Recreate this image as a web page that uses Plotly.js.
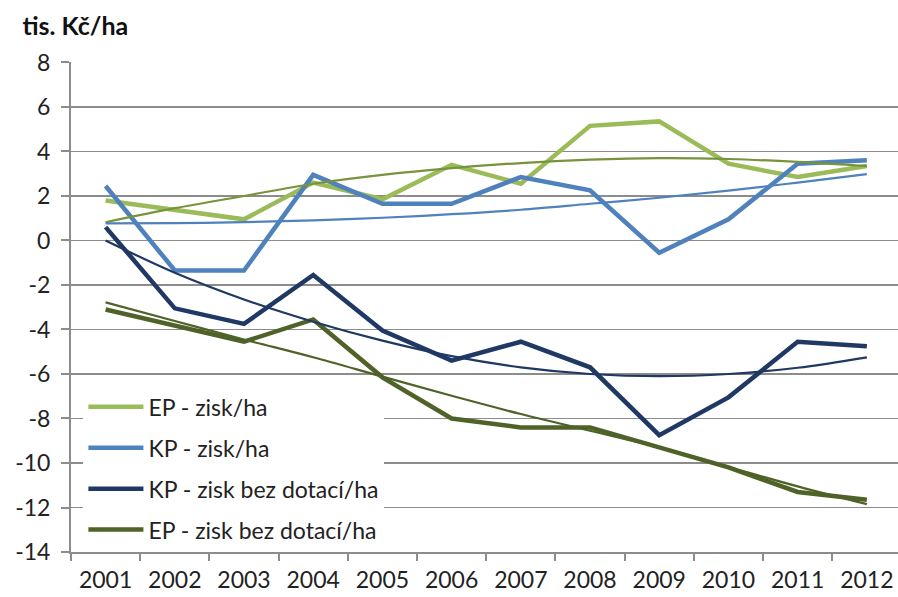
<!DOCTYPE html>
<html>
<head>
<meta charset="utf-8">
<script src="https://cdn.plot.ly/plotly-3.0.1.min.js"></script>
<style>html,body{margin:0;padding:0;background:#fff;}#chart{width:898px;height:597px;}</style>
</head>
<body>
<div id="chart"></div>
<script>
const years = ['2001','2002','2003','2004','2005','2006','2007','2008','2009','2010','2011','2012'];
const epZisk = [1.8, 1.35, 0.95, 2.6, 1.85, 3.4, 2.55, 5.15, 5.35, 3.45, 2.85, 3.35];
const kpZisk = [2.45, -1.35, -1.35, 2.95, 1.65, 1.65, 2.85, 2.25, -0.55, 0.95, 3.45, 3.6];
const kpBez = [0.6, -3.05, -3.75, -1.55, -4.05, -5.4, -4.55, -5.7, -8.75, -7.05, -4.55, -4.75];
const epBez = [-3.1, -3.85, -4.55, -3.55, -6.15, -8.0, -8.4, -8.4, -9.3, -10.2, -11.3, -11.65];
const epZiskTrend = [0.82, 1.45, 2.0, 2.55, 2.95, 3.25, 3.48, 3.63, 3.7, 3.66, 3.53, 3.34];
const kpZiskTrend = [0.77, 0.78, 0.82, 0.9, 1.02, 1.18, 1.38, 1.65, 1.92, 2.24, 2.6, 2.98];
const kpBezTrend = [0.0, -1.45, -2.65, -3.65, -4.5, -5.2, -5.7, -6.0, -6.1, -6.0, -5.72, -5.25];
const epBezTrend = [-2.78, -3.62, -4.45, -5.25, -6.12, -6.98, -7.8, -8.55, -9.3, -10.18, -11.05, -11.85];
const legendNames = ['EP - zisk/ha', 'KP - zisk/ha', 'KP - zisk bez dotací/ha', 'EP - zisk bez dotací/ha'];
const yTicks = [-14,-12,-10,-8,-6,-4,-2,0,2,4,6,8];

const cEP = '#9BBB59', cKP = '#4F81BD', cKPb = '#1F3864', cEPb = '#4F6228';

function main(y, name, color, g) {
  return {x: years, y: y, name: name, type: 'scatter', mode: 'lines',
    line: {color: color, width: 4.5}, legendgroup: g, hoverinfo: 'skip'};
}
function trend(y, color, width) {
  return {x: years, y: y, type: 'scatter', mode: 'lines', showlegend: false,
    line: {color: color, width: width, shape: 'spline', smoothing: 1}, hoverinfo: 'skip'};
}

const data = [
  main(epZisk, legendNames[0], cEP, 'a'),
  main(kpZisk, legendNames[1], cKP, 'b'),
  main(kpBez, legendNames[2], cKPb, 'c'),
  main(epBez, legendNames[3], cEPb, 'd'),
  trend(epZiskTrend, '#77933C', 2.2),
  trend(kpZiskTrend, cKP, 2.2),
  trend(kpBezTrend, cKPb, 2.2),
  trend(epBezTrend, cEPb, 2.2)
];

const gridC = '#8C8C8C';
const layout = {
  width: 898, height: 597,
  margin: {l: 71, r: 0, t: 62, b: 45},
  paper_bgcolor: '#fff', plot_bgcolor: '#fff',
  font: {family: 'Lato, "Open Sans", sans-serif', color: '#222', size: 23},
  title: {text: '<b>tis. Kč/ha</b>', x: 0.025, xanchor: 'left', xref: 'container',
    y: 0.956, yanchor: 'middle', yref: 'container', font: {size: 25, color: '#111'}},
  xaxis: {type: 'category', range: [-0.5, 11.45], showgrid: false, showline: true,
    linecolor: gridC, linewidth: 2, ticks: 'outside', ticklen: 7, tickcolor: gridC,
    tickwidth: 2, tickson: 'boundaries', ticklabelstandoff: 6,
    tickfont: {size: 23, color: '#222'}, fixedrange: true},
  yaxis: {range: [-14, 8.02], tickvals: yTicks, ticktext: yTicks.map(String),
    showgrid: true, gridcolor: gridC, gridwidth: 1.8, zeroline: false,
    showline: true, linecolor: gridC, linewidth: 2, ticks: 'outside', ticklen: 8,
    tickcolor: gridC, tickwidth: 2, ticklabelstandoff: 6,
    tickfont: {size: 23, color: '#222'}, fixedrange: true},
  showlegend: true,
  legend: {x: 0.015, y: 0.34, xanchor: 'left', yanchor: 'top', bgcolor: '#fff',
    borderwidth: 0, font: {size: 23, color: '#222'}, tracegroupgap: 8, itemwidth: 55,
    traceorder: 'grouped'}
};

Plotly.newPlot('chart', data, layout, {displayModeBar: false, staticPlot: true});
</script>
</body>
</html>
